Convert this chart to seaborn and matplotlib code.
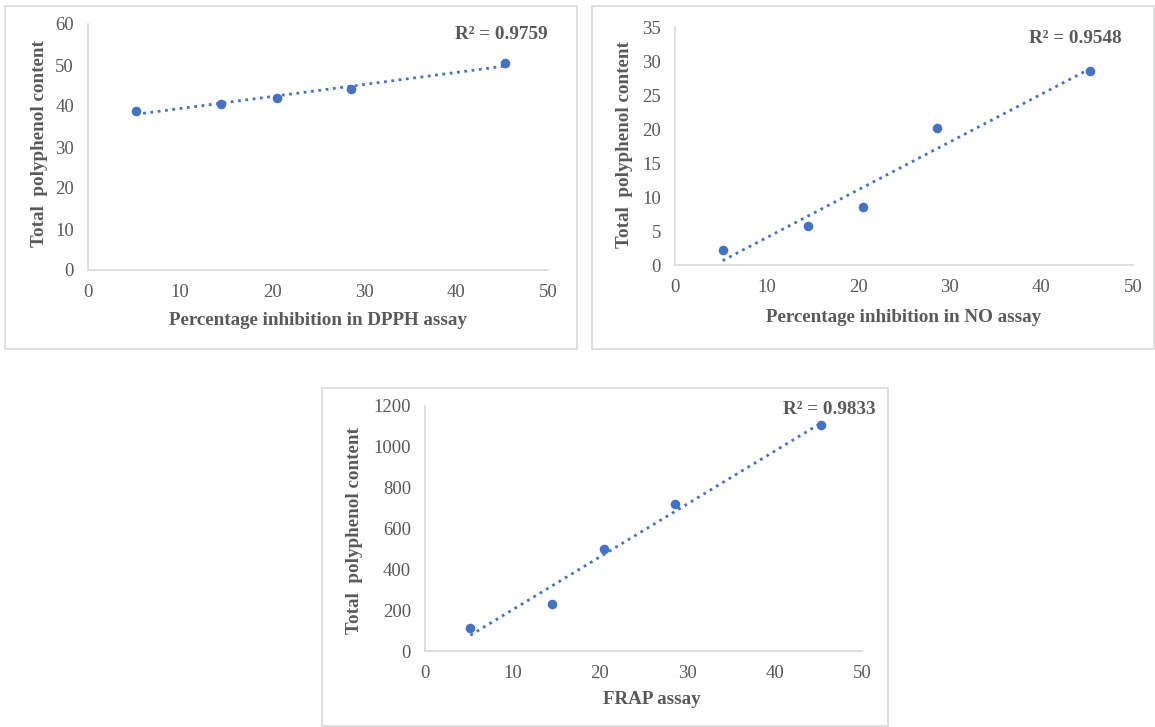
import numpy as np
import pandas as pd
import seaborn as sns
import matplotlib.pyplot as plt
from matplotlib.patches import Rectangle

# values
inhibition = [5.2, 14.5, 20.5, 28.6, 45.3]
dpph_tpc = [38.7, 40.6, 41.9, 44.1, 50.4]
no_tpc = [2.2, 5.8, 8.6, 20.1, 28.5]
frap_tpc = [112, 232, 500, 720, 1105]

x_labels = ["Percentage inhibition in DPPH assay",
            "Percentage inhibition in NO assay",
            "FRAP assay"]
r2_labels = ["R² = 0.9759", "R² = 0.9548", "R² = 0.9833"]
y_limits = [(0, 60), (0, 35), (0, 1200)]
y_steps = [10, 5, 200]

sns.set_style("white")
plt.rcParams["font.family"] = ["Liberation Serif", "DejaVu Serif"]

blue = "#4472C4"
grey_text = "#595959"
grey_line = "#D9D9D9"

fig = plt.figure(figsize=(11.55, 7.27), dpi=100)
W, H = 1155, 727

def px_box(x0, y0, x1, y1):
    return [x0 / W, 1 - y1 / H, (x1 - x0) / W, (y1 - y0) / H]

axes_boxes = [px_box(88, 24, 548, 270), px_box(675, 27, 1133, 265), px_box(425, 406, 862, 651)]
frame_boxes = [px_box(5, 6, 577, 349), px_box(592, 6, 1154, 349), px_box(322, 388, 888, 726)]
text_pos = [(50, 57.5), (48.8, 33.3), (51.6, 1185)]
xlabel_pos = [(0.5, -0.17), (0.498, -0.183), (0.52, -0.165)]
ylabel_pos = [(-0.087, 0.512), (-0.092, 0.504), (-0.142, 0.49)]

series = [dpph_tpc, no_tpc, frap_tpc]

for i in range(3):
    fb = frame_boxes[i]
    fig.add_artist(Rectangle((fb[0], fb[1]), fb[2], fb[3], transform=fig.transFigure,
                             fill=False, edgecolor=grey_line, linewidth=1.2))

    ax = fig.add_axes(axes_boxes[i])
    df = pd.DataFrame({"x": inhibition, "y": series[i]})
    sns.regplot(data=df, x="x", y="y", ax=ax, ci=None, color=blue,
                scatter_kws={"s": 48, "alpha": 1, "zorder": 3, "linewidths": 0},
                line_kws={"linestyle": ":", "linewidth": 2.0})

    ax.set_xlim(0, 50)
    ax.set_ylim(*y_limits[i])
    ax.set_xticks(np.arange(0, 51, 10))
    ax.set_yticks(np.arange(y_limits[i][0], y_limits[i][1] + 1, y_steps[i]))
    ax.tick_params(axis="both", length=0, labelsize=13.5, colors=grey_text, pad=10)
    for side in ["top", "right"]:
        ax.spines[side].set_visible(False)
    for side in ["left", "bottom"]:
        ax.spines[side].set_color(grey_line)
        ax.spines[side].set_linewidth(1.2)

    ax.set_xlabel(x_labels[i], fontsize=13.7, fontweight="bold", color=grey_text)
    ax.set_ylabel("Total  polyphenol content", fontsize=13.7, fontweight="bold", color=grey_text)
    ax.xaxis.set_label_coords(*xlabel_pos[i])
    ax.yaxis.set_label_coords(*ylabel_pos[i])

    tx, ty = text_pos[i]
    ax.text(tx, ty, r2_labels[i], ha="right", va="center", fontsize=13.8,
            fontweight="bold", color=grey_text, clip_on=False)

fig.savefig("out.png", dpi=100)
